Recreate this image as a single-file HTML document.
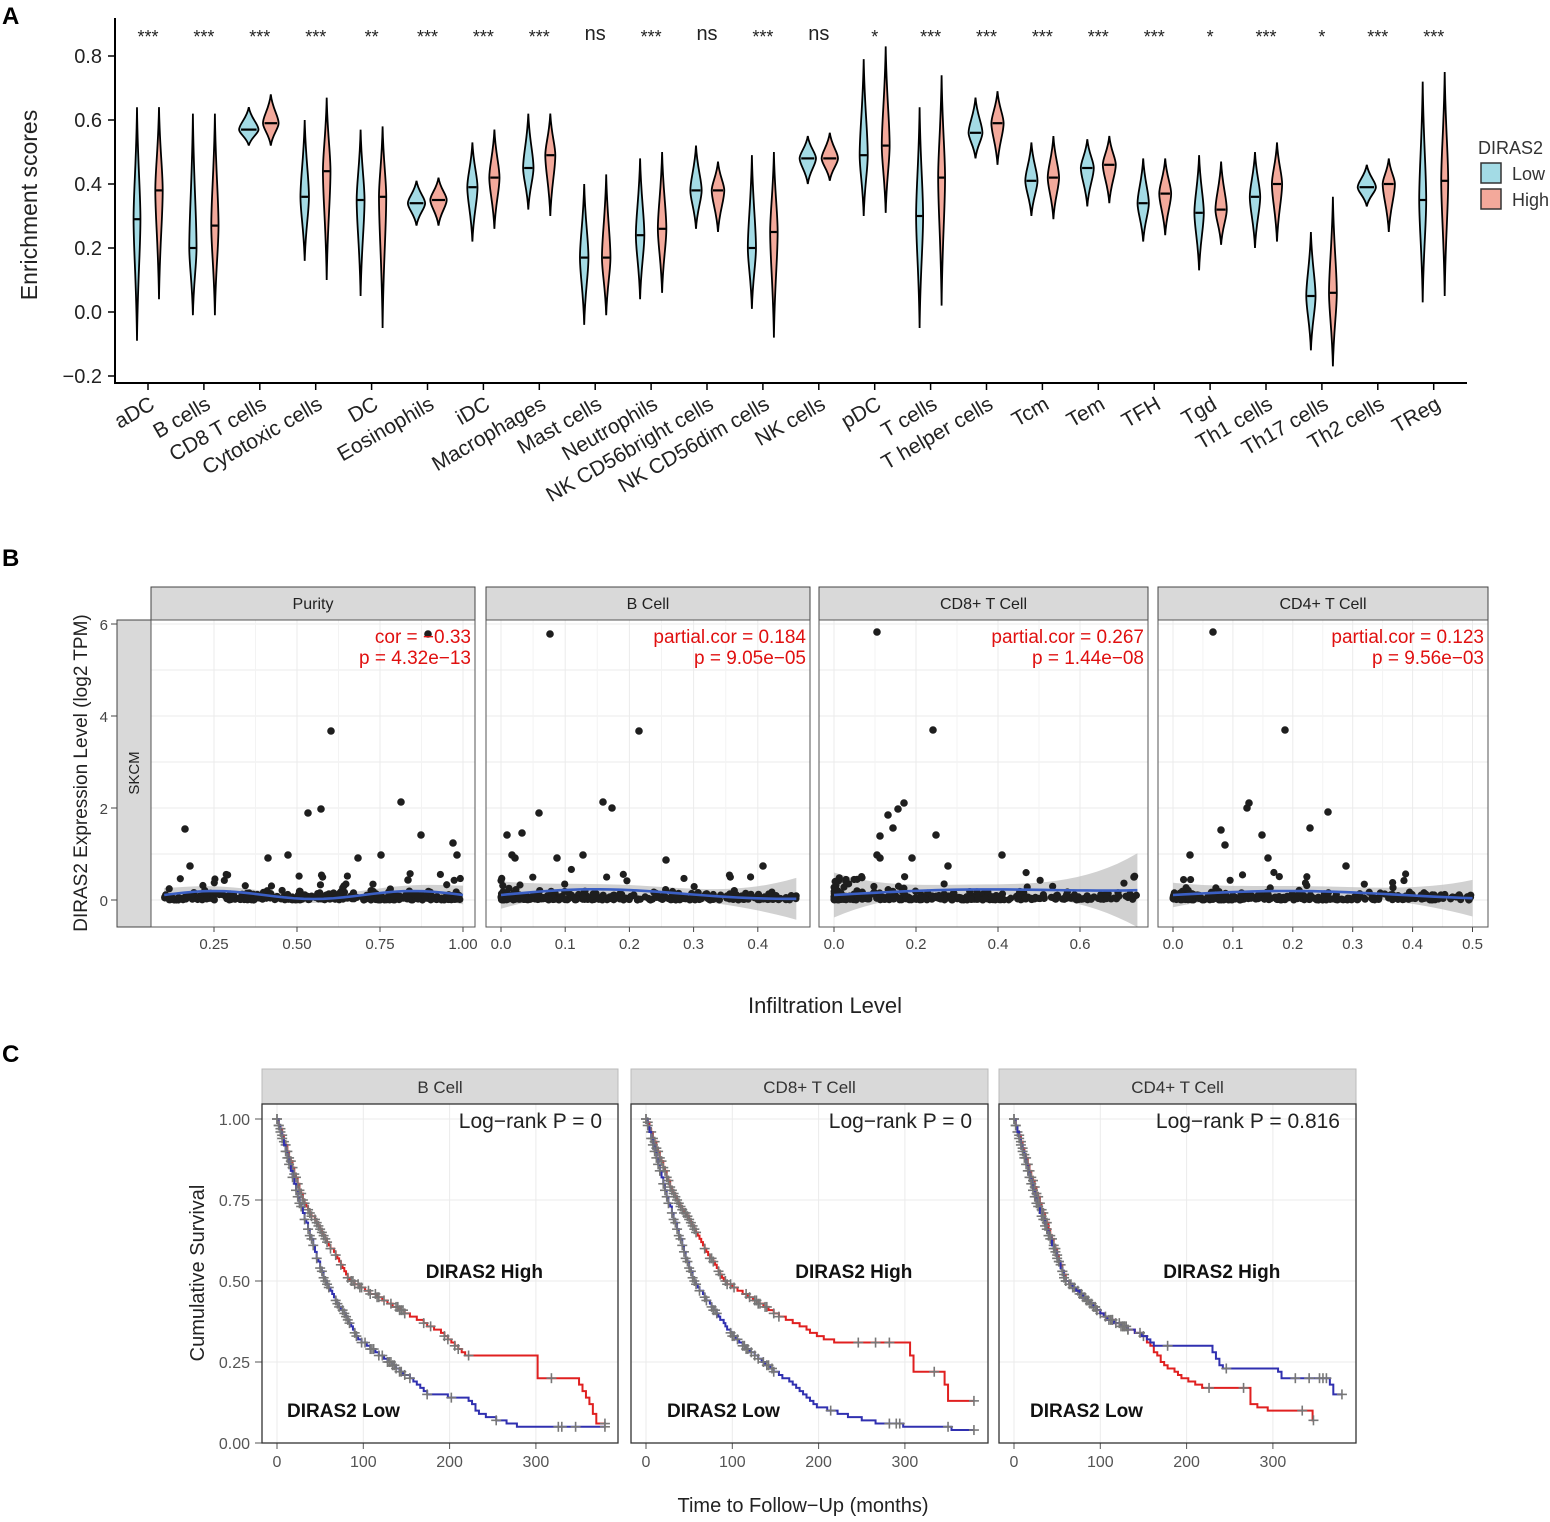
<!DOCTYPE html>
<html><head><meta charset="utf-8">
<style>
html,body{margin:0;padding:0;background:#fff;}
svg{display:block;font-family:"Liberation Sans",Arial,sans-serif;}
</style></head>
<body>
<svg id="s" width="1550" height="1522" viewBox="0 0 1550 1522" xmlns="http://www.w3.org/2000/svg">
<rect width="1550" height="1522" fill="#fff"/>
<text x="2" y="24" font-size="24" font-weight="bold">A</text>
<text x="2" y="566" font-size="24" font-weight="bold">B</text>
<text x="2" y="1062" font-size="24" font-weight="bold">C</text>
</svg>
<script>
const NS="http://www.w3.org/2000/svg",S=document.getElementById('s');
function el(t,a,p,txt){const e=document.createElementNS(NS,t);for(const k in a)e.setAttribute(k,a[k]);if(txt!==undefined)e.textContent=txt;(p||S).appendChild(e);return e;}
let seed=12345;function rnd(){seed|=0;seed=seed+0x6D2B79F5|0;let t=Math.imul(seed^seed>>>15,1|seed);t=t+Math.imul(t^t>>>7,61|t)^t;return((t^t>>>14)>>>0)/4294967296;}

/* ===== Panel A ===== */
const yA=v=>312-v*320;
el('line',{x1:115,y1:18,x2:115,y2:384,stroke:'#000','stroke-width':2});
el('line',{x1:114,y1:383,x2:1467,y2:383,stroke:'#000','stroke-width':2});
[0.8,0.6,0.4,0.2,0.0,-0.2].forEach(v=>{const y=yA(v);el('line',{x1:108,y1:y,x2:115,y2:y,stroke:'#000','stroke-width':1.5});el('text',{x:102,y:y+7,'font-size':20,'text-anchor':'end',fill:'#222'},null,v<0?'\u22120.2':v.toFixed(1));});
el('text',{x:0,y:0,'font-size':23,'text-anchor':'middle',fill:'#222',transform:'translate(37,205) rotate(-90)'},null,'Enrichment scores');
const names=['aDC','B cells','CD8 T cells','Cytotoxic cells','DC','Eosinophils','iDC','Macrophages','Mast cells','Neutrophils','NK CD56bright cells','NK CD56dim cells','NK cells','pDC','T cells','T helper cells','Tcm','Tem','TFH','Tgd','Th1 cells','Th17 cells','Th2 cells','TReg'];
const stars=['***','***','***','***','**','***','***','***','ns','***','ns','***','ns','*','***','***','***','***','***','*','***','*','***','***'];
const D=[[.29,-.09,.64,.38,.04,.64],[.2,-.01,.62,.27,-.01,.62],[.57,.52,.64,.59,.52,.68],[.36,.16,.6,.44,.1,.67],[.35,.05,.57,.36,-.05,.58],[.34,.27,.41,.35,.27,.42],[.39,.22,.53,.42,.26,.57],[.45,.32,.62,.49,.3,.62],[.17,-.04,.4,.17,-.01,.43],[.24,.04,.48,.26,.06,.5],[.38,.26,.52,.38,.25,.47],[.2,.01,.49,.25,-.08,.5],[.48,.4,.55,.48,.41,.56],[.49,.3,.79,.52,.31,.83],[.3,-.05,.64,.42,.02,.74],[.56,.48,.67,.59,.46,.69],[.41,.3,.53,.42,.29,.55],[.45,.33,.54,.46,.34,.55],[.34,.22,.48,.37,.24,.48],[.31,.13,.49,.32,.21,.47],[.36,.2,.5,.4,.22,.53],[.05,-.12,.25,.06,-.17,.36],[.39,.33,.46,.4,.25,.48],[.35,.03,.72,.41,.05,.75]];
function violin(x,med,mn,mx,fill){const r=mx-mn;const hw=Math.min(10,0.9/r+2.2);const t=yA(mx),m=yA(med),b=yA(mn);
const d=`M${x},${t} C${x+hw*0.2},${t+(m-t)*0.5} ${x+hw},${m-(m-t)*0.25} ${x+hw},${m} C${x+hw},${m+(b-m)*0.25} ${x+hw*0.2},${b-(b-m)*0.5} ${x},${b} C${x-hw*0.2},${b-(b-m)*0.5} ${x-hw},${m+(b-m)*0.25} ${x-hw},${m} C${x-hw},${m-(m-t)*0.25} ${x-hw*0.2},${t+(m-t)*0.5} ${x},${t}Z`;
el('path',{d,fill,stroke:'#000','stroke-width':1.8});el('line',{x1:x-hw*0.8,y1:m,x2:x+hw*0.8,y2:m,stroke:'#000','stroke-width':2.2});}
names.forEach((n,i)=>{const x=148+i*55.9;const d=D[i];
violin(x-11,d[0],d[1],d[2],'#a3dbe5');violin(x+11,d[3],d[4],d[5],'#f3a99b');
el('line',{x1:x,y1:383,x2:x,y2:390,stroke:'#000','stroke-width':1.5});
el('text',{x:x,y:stars[i]=='ns'?40:43,'font-size':stars[i]=='ns'?20:18,'text-anchor':'middle',fill:'#222'},null,stars[i]);
el('text',{x:0,y:0,'font-size':21,'text-anchor':'end',fill:'#222',transform:`translate(${x+8},${408}) rotate(-30)`},null,n);});
el('text',{x:1478,y:154,'font-size':18,fill:'#333'},null,'DIRAS2');
el('rect',{x:1481,y:163,width:20,height:20,fill:'#a3dbe5',stroke:'#333','stroke-width':1.5});
el('rect',{x:1481,y:189,width:20,height:20,fill:'#f3a99b',stroke:'#333','stroke-width':1.5});
el('text',{x:1512,y:180,'font-size':18,fill:'#333'},null,'Low');
el('text',{x:1512,y:206,'font-size':18,fill:'#333'},null,'High');

/* ===== Panel B ===== */
const yB=v=>900-v*46;
el('rect',{x:117,y:620,width:34,height:307,fill:'#d9d9d9',stroke:'#444','stroke-width':1});
el('text',{x:0,y:0,'font-size':15,'text-anchor':'middle',fill:'#222',transform:'translate(139,773) rotate(-90)'},null,'SKCM');
[6,4,2,0].forEach(v=>{el('text',{x:108,y:yB(v)+6,'font-size':15,'text-anchor':'end',fill:'#444'},null,v);el('line',{x1:111,y1:yB(v),x2:117,y2:yB(v),stroke:'#444'});});
el('text',{x:0,y:0,'font-size':19,'text-anchor':'middle',fill:'#222',transform:'translate(87,773) rotate(-90)'},null,'DIRAS2 Expression Level (log2 TPM)');
el('text',{x:825,y:1013,'font-size':22,'text-anchor':'middle',fill:'#222'},null,'Infiltration Level');
const PB=[
{x0:151,x1:475,title:'Purity',map:v=>214+(v-0.25)*332,ticks:[[0.25,'0.25'],[0.5,'0.50'],[0.75,'0.75'],[1,'1.00']],lo:0.1,hi:1.0,l1:'cor = \u22120.33',l2:'p = 4.32e\u221213',
 out:[[428,634],[331,731],[321,809],[308,813],[401,802],[421,835],[185,829],[453,843],[457,855],[268,858],[288,855],[381,855],[358,858],[408,880],[190,866]],band:[4,4]},
{x0:486,x1:810,title:'B Cell',map:v=>501+v*642,ticks:[[0,'0.0'],[.1,'0.1'],[.2,'0.2'],[.3,'0.3'],[.4,'0.4']],lo:0,hi:0.46,l1:'partial.cor = 0.184',l2:'p = 9.05e\u221205',
 out:[[550,634],[639,731],[539,813],[603,802],[612,808],[507,835],[522,833],[512,855],[515,858],[557,858],[583,855],[666,860],[763,866]],band:[5,12]},
{x0:819,x1:1148,title:'CD8+ T Cell',map:v=>834+v*410,ticks:[[0,'0.0'],[.2,'0.2'],[.4,'0.4'],[.6,'0.6']],lo:0,hi:0.74,l1:'partial.cor = 0.267',l2:'p = 1.44e\u221208',
 out:[[877,632],[933,730],[904,803],[898,809],[888,815],[893,828],[880,836],[877,855],[880,858],[912,858],[936,835],[1002,855],[948,866],[1134,877]],band:[5,24]},
{x0:1158,x1:1488,title:'CD4+ T Cell',map:v=>1173+v*599,ticks:[[0,'0.0'],[.1,'0.1'],[.2,'0.2'],[.3,'0.3'],[.4,'0.4'],[.5,'0.5']],lo:0,hi:0.5,l1:'partial.cor = 0.123',l2:'p = 9.56e\u221203',
 out:[[1213,632],[1285,730],[1249,803],[1247,808],[1221,830],[1225,845],[1262,835],[1268,858],[1310,828],[1328,812],[1190,855],[1346,866]],band:[5,10]}];
PB.forEach((p,pi)=>{const w=p.x1-p.x0;
el('rect',{x:p.x0,y:587,width:w,height:33,fill:'#d9d9d9',stroke:'#444','stroke-width':1});
el('text',{x:p.x0+w/2,y:609,'font-size':16,'text-anchor':'middle',fill:'#222'},null,p.title);
el('rect',{x:p.x0,y:620,width:w,height:307,fill:'#fff'});
const g=el('g',{stroke:'#ebebeb','stroke-width':1});
[0,1,2,3,4,5,6].forEach(v=>el('line',{x1:p.x0,y1:yB(v),x2:p.x1,y2:yB(v)},g));
p.ticks.forEach(t=>{const x=p.map(t[0]);el('line',{x1:x,y1:620,x2:x,y2:927},g);});
for(let i=0;i<p.ticks.length-1;i++){const x=(p.map(p.ticks[i][0])+p.map(p.ticks[i+1][0]))/2;el('line',{x1:x,y1:620,x2:x,y2:927,stroke:'#f3f3f3'});}
p.ticks.forEach(t=>{const x=p.map(t[0]);el('line',{x1:x,y1:927,x2:x,y2:932,stroke:'#444'});el('text',{x:x,y:949,'font-size':15,'text-anchor':'middle',fill:'#444'},null,t[1]);});
const xa=p.map(p.lo),xb=p.map(p.hi);
let up=[],dn=[],ln=[];
for(let k=0;k<=30;k++){const f=k/30;const x=xa+(xb-xa)*f;
let yv=895-4*Math.sin(f*Math.PI*(pi==0?3:1.3))-(pi==2?8*f*f:0)+(pi==1?-2*Math.sin(f*6):0);
const bw=p.band[0]+p.band[1]*Math.pow(Math.abs(f-0.45)*2,3);
ln.push(x+','+yv);up.push(x+','+(yv-bw));dn.unshift(x+','+(yv+bw));}
el('polygon',{points:up.concat(dn).join(' '),fill:'#bdbdbd','fill-opacity':0.7});
const pts=el('g',{fill:'#1e1e1e'});
for(let k=0;k<340;k++){let u=rnd();u=Math.pow(u,pi==0?1:1.6);const v=p.lo+(p.hi-p.lo)*u;let yv=-Math.log(1-rnd()*0.97)*0.06;if(rnd()<0.08)yv+=rnd()*0.5;
el('circle',{cx:p.map(v),cy:yB(Math.min(yv,1)),r:3.6},pts);}
p.out.forEach(o=>el('circle',{cx:o[0],cy:o[1],r:3.8},pts));
el('polyline',{points:ln.join(' '),fill:'none',stroke:'#3b5fc4','stroke-width':2.6});
el('rect',{x:p.x0,y:620,width:w,height:307,fill:'none',stroke:'#555','stroke-width':1});
el('text',{x:p.x1-4,y:643,'font-size':19,'text-anchor':'end',fill:'#e01010'},null,p.l1);
el('text',{x:p.x1-4,y:664,'font-size':19,'text-anchor':'end',fill:'#e01010'},null,p.l2);
});

/* ===== Panel C ===== */
const yC=v=>1443-v*324;
[1,.75,.5,.25,0].forEach(v=>{el('text',{x:250,y:yC(v)+6,'font-size':16,'text-anchor':'end',fill:'#555'},null,v.toFixed(2));el('line',{x1:255,y1:yC(v),x2:262,y2:yC(v),stroke:'#555'});});
el('text',{x:0,y:0,'font-size':20,'text-anchor':'middle',fill:'#222',transform:'translate(204,1273) rotate(-90)'},null,'Cumulative Survival');
el('text',{x:803,y:1512,'font-size':20,'text-anchor':'middle',fill:'#222'},null,'Time to Follow\u2212Up (months)');
const PC=[
{x0:262,x1:618,t:'B Cell',p:'Log\u2212rank P = 0',z:277,
 hi:[[0,1],[30,.75],[85,.5],[150,.4],[190,.34],[205,.3],[220,.27],[300,.27],[302,.2],[345,.2],[365,.1],[368,.06],[380,.06]],
 lo:[[0,1],[25,.75],[55,.5],[95,.32],[130,.25],[175,.15],[220,.14],[230,.1],[245,.08],[280,.05],[380,.05]]},
{x0:631,x1:988,t:'CD8+ T Cell',p:'Log\u2212rank P = 0',z:646,
 hi:[[0,1],[30,.78],[90,.5],[150,.4],[200,.33],[220,.31],[305,.31],[307,.22],[345,.22],[347,.13],[380,.13]],
 lo:[[0,1],[25,.75],[55,.5],[100,.33],[135,.25],[175,.17],[200,.11],[240,.08],[270,.06],[380,.04]]},
{x0:999,x1:1356,t:'CD4+ T Cell',p:'Log\u2212rank P = 0.816',z:1014,
 hi:[[0,1],[25,.78],[60,.5],[110,.38],[150,.33],[170,.25],[195,.2],[220,.17],[270,.17],[272,.12],[300,.1],[345,.1],[347,.04]],
 lo:[[0,1],[25,.75],[60,.5],[110,.38],[150,.33],[160,.3],[225,.3],[240,.23],[305,.23],[310,.2],[365,.2],[367,.15],[380,.15]]}];
function interp(a,t){for(let i=1;i<a.length;i++){if(t<=a[i][0]){const f=(t-a[i-1][0])/(a[i][0]-a[i-1][0]||1);return a[i-1][1]+(a[i][1]-a[i-1][1])*f;}}return a[a.length-1][1];}
PC.forEach(p=>{const w=p.x1-p.x0;const X=m=>p.z+m*0.863;
el('rect',{x:p.x0,y:1069,width:w,height:35,fill:'#d9d9d9',stroke:'#bbb'});
el('text',{x:p.x0+w/2,y:1093,'font-size':17,'text-anchor':'middle',fill:'#333'},null,p.t);
const g=el('g',{stroke:'#ebebeb'});
[1,.75,.5,.25,0].forEach(v=>el('line',{x1:p.x0,y1:yC(v),x2:p.x1,y2:yC(v)},g));
[0,100,200,300].forEach(m=>{el('line',{x1:X(m),y1:1104,x2:X(m),y2:1443},g);el('line',{x1:X(m),y1:1443,x2:X(m),y2:1449,stroke:'#555'});el('text',{x:X(m),y:1467,'font-size':16,'text-anchor':'middle',fill:'#555'},null,m);});
[['hi','#e02020'],['lo','#3030b0']].forEach(([k,c])=>{const a=p[k];const end=a[a.length-1][0];let d=`M${X(0)},${yC(1)}`;let prev=1;const marks=[];
for(let t=0;t<=end;t+=(t<150?2:4)){let v=interp(a,t);v=Math.round(v*100)/100;if(v<prev-0.004){d+=` H${X(t)} V${yC(v)}`;prev=v;}
const dens=t<60?0.9:t<150?0.45:0.12;if(rnd()<dens)marks.push([X(t),yC(prev)]);}
d+=` H${X(end)}`;marks.push([X(end),yC(prev)]);
el('path',{d,fill:'none',stroke:c,'stroke-width':2});
const mg=el('g',{stroke:'#777','stroke-width':1.6});
marks.forEach(m=>{el('line',{x1:m[0]-5,y1:m[1],x2:m[0]+5,y2:m[1]},mg);el('line',{x1:m[0],y1:m[1]-5,x2:m[0],y2:m[1]+5},mg);});});
el('rect',{x:p.x0,y:1104,width:w,height:339,fill:'none',stroke:'#333','stroke-width':1.3});
el('text',{x:p.x1-16,y:1128,'font-size':21,'text-anchor':'end',fill:'#222'},null,p.p);
el('text',{x:p.x0+w*0.46,y:1278,'font-size':19,'font-weight':'bold',fill:'#111'},null,'DIRAS2 High');
el('text',{x:p.x0+(p.t=='CD4+ T Cell'?31:(p.t=='B Cell'?25:36)),y:1417,'font-size':19,'font-weight':'bold',fill:'#111'},null,'DIRAS2 Low');
});
</script>
</body></html>
